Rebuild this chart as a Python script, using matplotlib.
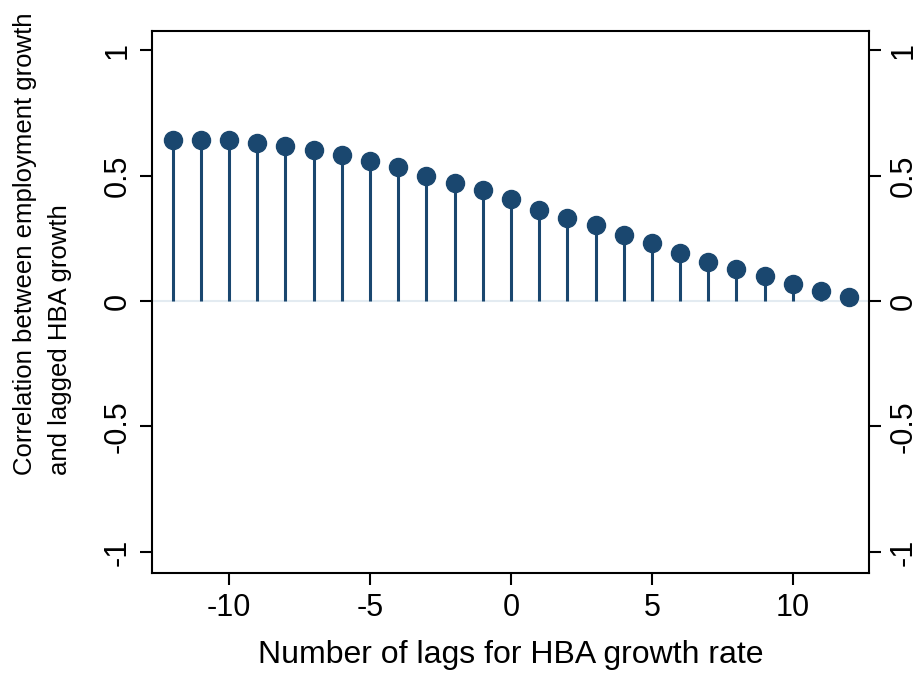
import numpy as np
import matplotlib.pyplot as plt

plt.rcParams['font.family'] = ['Liberation Sans', 'DejaVu Sans']
plt.rcParams['axes.unicode_minus'] = False

# Lags and correlations
lags = list(range(-12, 13))
corr = [0.641, 0.643, 0.643, 0.630, 0.617, 0.600, 0.580, 0.558, 0.534,
        0.498, 0.470, 0.442, 0.406, 0.363, 0.330, 0.303, 0.263, 0.231,
        0.191, 0.155, 0.127, 0.100, 0.068, 0.040, 0.016]

x_ticks = [-10, -5, 0, 5, 10]
y_ticks = [-1, -0.5, 0, 0.5, 1]
y_ticklabels = ['-1', '-0.5', '0', '0.5', '1']

navy = '#1a476f'

fig = plt.figure(figsize=(9.22, 6.85), dpi=100)
ax = fig.add_axes([0.1649, 0.1635, 0.7776, 0.7912])

# zero line
ax.axhline(0, color='#e3ebf1', lw=1.5, zorder=1)

# stems and markers
ax.vlines(lags, 0, corr, color=navy, lw=2.2, zorder=2)
ax.plot(lags, corr, 'o', color=navy, markersize=13, zorder=3)

ax.set_xlim(-12.73, 12.7)
ax.set_ylim(-1.084, 1.076)

ax.set_xticks(x_ticks)
ax.set_yticks(y_ticks)
ax.set_yticklabels(y_ticklabels)

ax.tick_params(axis='both', labelsize=22, length=8.5, width=1.5, direction='out')
ax.tick_params(axis='x', pad=6)
ax.tick_params(axis='y', right=True, labelright=True, pad=5.5)
for t in ax.yaxis.get_major_ticks():
    t.label1.set_rotation(90)
    t.label1.set_va('center')
    t.label2.set_rotation(90)
    t.label2.set_va('center')

for s in ax.spines.values():
    s.set_linewidth(1.5)

ax.set_xlabel('Number of lags for HBA growth rate', fontsize=23, labelpad=12)

# y title: two lines, starting from the same point
fig.text(13 / 922, 1 - 475 / 685,
         'Correlation between employment growth\nand lagged HBA growth',
         rotation=90, fontsize=18.5, ha='left', va='bottom',
         multialignment='left', linespacing=1.6)

fig.savefig('out.png', dpi=100)
